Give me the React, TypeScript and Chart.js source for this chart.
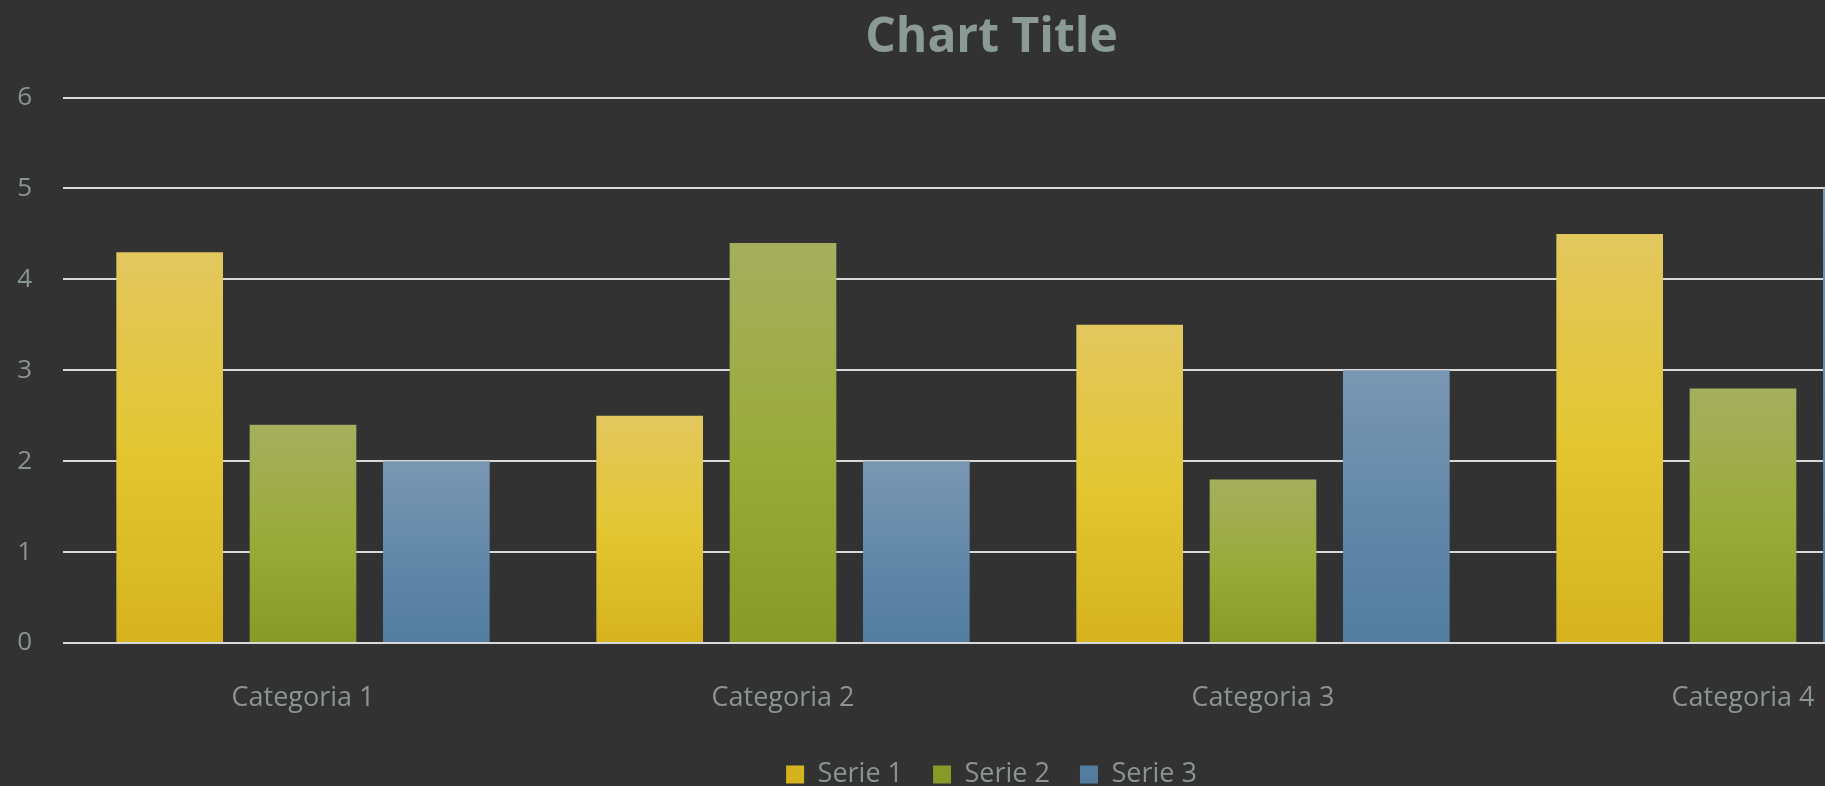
import React, { useEffect, useRef } from 'react';
import { Chart, registerables } from 'chart.js';

Chart.register(...registerables);

const categories = ['Categoria 1', 'Categoria 2', 'Categoria 3', 'Categoria 4'];
const seriesNames = ['Serie 1', 'Serie 2', 'Serie 3'];
const serie1 = [4.3, 2.5, 3.5, 4.5];
const serie2 = [2.4, 4.4, 1.8, 2.8];
const serie3 = [2, 2, 3, 5];
const yTicks = [0, 1, 2, 3, 4, 5, 6];
const chartTitle = 'Chart Title';

const palettes = [
  { solid: '#e2c431', stops: ['#e2c75e', '#e3c632', '#d5b31f'] },
  { solid: '#9aab3c', stops: ['#a5af5e', '#9aab3c', '#879a27'] },
  { solid: '#6b95bd', stops: ['#7a97b2', '#6389a9', '#537c9e'] },
];

const FONT = '"Open Sans", "Noto Sans", sans-serif';
const TEXT_COLOR = '#8a9491';

function barFill(idx: number) {
  return (ctx: any) => {
    const p = palettes[idx];
    if (ctx.type !== 'data') return p.solid;
    const chart = ctx.chart;
    const y = chart.scales && chart.scales.y;
    if (!y) return p.solid;
    const top = y.getPixelForValue(ctx.raw);
    const bot = y.getPixelForValue(0);
    if (!isFinite(top) || !isFinite(bot) || Math.abs(bot - top) < 1) return p.solid;
    const g = chart.ctx.createLinearGradient(0, top, 0, bot);
    g.addColorStop(0, p.stops[0]);
    g.addColorStop(0.5, p.stops[1]);
    g.addColorStop(1, p.stops[2]);
    return g;
  };
}

export default function App() {
  const ref = useRef<HTMLCanvasElement | null>(null);

  useEffect(() => {
    if (!ref.current) return;
    const seriesValues = [serie1, serie2, serie3];
    const chart = new Chart(ref.current, {
      type: 'bar',
      data: {
        labels: categories,
        datasets: seriesNames.map((name, i) => ({
          label: name,
          data: seriesValues[i],
          backgroundColor: barFill(i),
          borderWidth: 0,
          categoryPercentage: 0.8333,
          barPercentage: 0.8,
        })),
      },
      options: {
        responsive: false,
        animation: false,
        devicePixelRatio: 1,
        layout: { padding: { left: 0, right: 17, top: 0, bottom: 0 } },
        plugins: {
          title: {
            display: true,
            text: chartTitle,
            color: '#8b9a96',
            font: { family: FONT, size: 48, weight: 'bold', lineHeight: 1.2 },
            padding: { top: 10, bottom: 30 },
          },
          legend: {
            position: 'bottom',
            labels: {
              color: TEXT_COLOR,
              font: { family: FONT, size: 27 },
              boxWidth: 18,
              boxHeight: 18,
              padding: 30,
            },
          },
          tooltip: { enabled: false },
        },
        scales: {
          x: {
            grid: { display: false },
            border: { display: false },
            ticks: { color: TEXT_COLOR, font: { family: FONT, size: 27 }, padding: 31 },
            afterFit: (s: any) => {
              s.height = 88;
            },
          },
          y: {
            min: 0,
            max: 6,
            afterBuildTicks: (s: any) => {
              s.ticks = yTicks.map((v) => ({ value: v }));
            },
            ticks: { color: TEXT_COLOR, font: { family: FONT, size: 26 }, padding: 31 },
            grid: { color: '#d9d9d9', lineWidth: 2, drawTicks: false },
            border: { display: false },
            afterFit: (s: any) => {
              s.width = 63;
            },
          },
        },
      },
    });
    return () => chart.destroy();
  }, []);

  return (
    <div
      style={{
        position: 'fixed',
        left: 0,
        top: 0,
        width: '1825px',
        height: '786px',
        overflow: 'hidden',
        background: '#323232',
      }}
    >
      <canvas ref={ref} width={2000} height={798} style={{ width: '2000px', height: '798px', display: 'block' }} />
    </div>
  );
}
